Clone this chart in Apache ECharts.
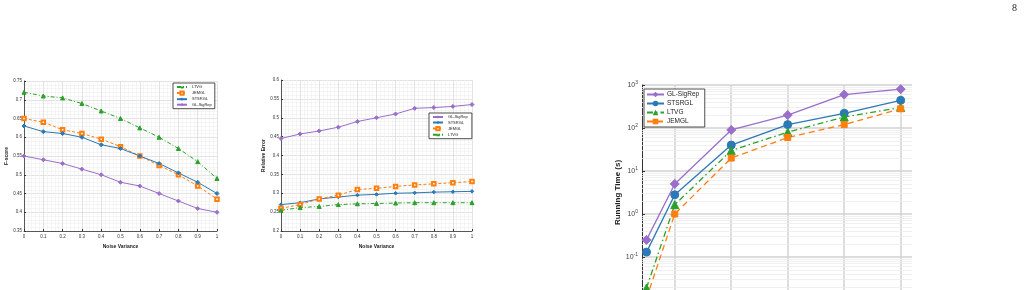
<!DOCTYPE html>
<html>
<head>
<meta charset="utf-8">
<script src="https://cdn.jsdelivr.net/npm/echarts@6/dist/echarts.min.js"></script>
<style>
html,body{margin:0;padding:0;background:#fff;}
#main{width:1027px;height:290px;}
</style>
</head>
<body>
<div id="main"></div>
<script>
// noise levels (charts 1 and 2)
var noise = [0, 0.1, 0.2, 0.3, 0.4, 0.5, 0.6, 0.7, 0.8, 0.9, 1];

// F-score
var f_LTVG   = [0.72, 0.71, 0.705, 0.69, 0.67, 0.65, 0.625, 0.60, 0.57, 0.535, 0.49];
var f_JEMGL  = [0.65, 0.64, 0.62, 0.61, 0.595, 0.575, 0.55, 0.525, 0.50, 0.47, 0.435];
var f_STSRGL = [0.63, 0.615, 0.61, 0.60, 0.58, 0.57, 0.55, 0.53, 0.505, 0.48, 0.45];
var f_GLSig  = [0.55, 0.54, 0.53, 0.515, 0.50, 0.48, 0.47, 0.45, 0.43, 0.41, 0.40];

// Relative error
var e_GLSig  = [0.445, 0.457, 0.465, 0.475, 0.49, 0.50, 0.51, 0.525, 0.527, 0.53, 0.535];
var e_STSRGL = [0.27, 0.275, 0.285, 0.29, 0.295, 0.297, 0.30, 0.301, 0.303, 0.304, 0.305];
var e_JEMGL  = [0.26, 0.27, 0.285, 0.295, 0.31, 0.313, 0.318, 0.322, 0.325, 0.328, 0.331];
var e_LTVG   = [0.255, 0.262, 0.265, 0.27, 0.272, 0.273, 0.274, 0.275, 0.275, 0.275, 0.275];

// Running time
var nodes    = [50, 100, 200, 300, 400, 500];
var t_GLSig  = [0.25, 5, 90, 200, 600, 800];
var t_STSRGL = [0.13, 2.8, 40, 120, 220, 440];
var t_LTVG   = [0.019, 1.65, 30, 80, 180, 300];
var t_JEMGL  = [0.011, 1.0, 20, 60, 120, 280];

var nodeTicks = [100, 200, 300, 400, 500];
var logMinor = [];
[0.01, 0.1, 1, 10, 100].forEach(function (d) {
    for (var k = 2; k <= 9; k++) logMinor.push(+(d * k).toPrecision(3));
});

var cPurple = '#9a6fc9', cBlue = '#2b79b6', cOrange = '#ff7f0e', cGreen = '#2ca02c';
var font = 'Liberation Sans';

function pairs(xs, ys) {
    return xs.map(function (x, i) { return [x, ys[i]]; });
}

// small panels (1 and 2)
function smallX(idx) {
    return {
        type: 'value', gridIndex: idx, min: 0, max: 1, interval: 0.1,
        name: 'Noise Variance', nameLocation: 'middle', nameGap: 8,
        nameTextStyle: {fontSize: 5, fontWeight: 'bold', fontFamily: font, color: '#222'},
        axisLine: {show: true, onZero: false, lineStyle: {color: '#333', width: 0.8}},
        axisTick: {show: true, inside: true, length: 2, lineStyle: {color: '#333'}},
        axisLabel: {fontSize: 4.5, fontFamily: font, color: '#333', margin: 3},
        splitLine: {show: true, lineStyle: {color: '#dcdcdc', width: 0.8}},
        minorTick: {show: false, splitNumber: 5},
        minorSplitLine: {show: true, lineStyle: {color: '#efefef', width: 0.6}}
    };
}
function smallY(idx, min, max, name) {
    return {
        type: 'value', gridIndex: idx, min: min, max: max, interval: 0.05,
        name: name, nameLocation: 'middle', nameGap: 13, nameRotate: 90,
        nameTextStyle: {fontSize: 5, fontWeight: 'bold', fontFamily: font, color: '#222'},
        axisLine: {show: true, onZero: false, lineStyle: {color: '#333', width: 0.8}},
        axisTick: {show: true, inside: true, length: 2, lineStyle: {color: '#333'}},
        axisLabel: {fontSize: 4.5, fontFamily: font, color: '#333', margin: 2},
        splitLine: {show: true, lineStyle: {color: '#dcdcdc', width: 0.8}},
        minorTick: {show: false, splitNumber: 5},
        minorSplitLine: {show: true, lineStyle: {color: '#efefef', width: 0.6}}
    };
}

function line(name, idx, data, color, symbol, size, type, width) {
    return {
        name: name, type: 'line', xAxisIndex: idx, yAxisIndex: idx, data: data,
        symbol: symbol, symbolSize: size, showSymbol: true,
        lineStyle: {color: color, width: width, type: type},
        itemStyle: {color: color, borderColor: color},
        animation: false, z: 3
    };
}

var smallLegend = {
    orient: 'vertical', itemWidth: 10, itemHeight: 4, itemGap: 1.5,
    padding: [2, 3], borderColor: '#222', borderWidth: 0.8, backgroundColor: '#fff',
    textStyle: {fontSize: 4, fontFamily: font, color: '#222'}
};

var myChart = echarts.init(document.getElementById('main'));
var option = {
    backgroundColor: '#fff',
    animation: false,
    graphic: [{
        type: 'text', left: 1012, top: 3,
        style: {text: '8', fontSize: 10, fontFamily: 'Liberation Serif', fill: '#222'}
    }],
    grid: [
        {left: 24, top: 81, width: 193, height: 150, outerBoundsMode: 'none'},
        {left: 281, top: 80, width: 191, height: 151, outerBoundsMode: 'none'},
        {left: 642, top: 85, width: 270, height: 215, outerBoundsMode: 'none'}
    ],
    legend: [
        Object.assign({left: 173, top: 83, data: ['LTVG', 'JEMGL', 'STSRGL', 'GL-SigRep']}, smallLegend),
        Object.assign({left: 429, top: 113, data: ['GL-SigRep ', 'STSRGL ', 'JEMGL ', 'LTVG ']}, smallLegend),
        {
            left: 644, top: 89, orient: 'vertical', itemWidth: 17, itemHeight: 7, itemGap: 2,
            padding: [2, 2], borderColor: '#222', borderWidth: 0.8, backgroundColor: '#fff',
            textStyle: {fontSize: 6.5, fontFamily: font, color: '#222', padding: [0, 0, 0, -2]},
            data: ['GL-SigRep  ', 'STSRGL  ', 'LTVG  ', 'JEMGL  ']
        }
    ],
    xAxis: [
        smallX(0),
        smallX(1),
        {
            type: 'value', gridIndex: 2, min: 42, max: 520,
            axisLine: {show: true, onZero: false, lineStyle: {color: '#333'}},
            axisTick: {show: true, inside: true, customValues: nodeTicks, length: 3},
            axisLabel: {show: true, customValues: nodeTicks, fontSize: 7, fontFamily: font, color: '#333'},
            splitLine: {show: true, lineStyle: {color: '#d2d2d2', width: 1.5}}
        }
    ],
    yAxis: [
        smallY(0, 0.35, 0.75, 'F-score'),
        smallY(1, 0.2, 0.6, 'Relative Error'),
        {
            type: 'log', gridIndex: 2, logBase: 10, min: 0.01, max: 1000,
            name: 'Running Time (s)', nameLocation: 'middle', nameGap: 20, nameRotate: 90,
            nameTextStyle: {fontSize: 8, fontWeight: 'bold', fontFamily: font, color: '#222'},
            axisLine: {show: true, onZero: false, lineStyle: {color: '#333', width: 1}},
            axisTick: {show: true, inside: true, length: 3, lineStyle: {color: '#333'}},
            axisLabel: {
                fontSize: 7, fontFamily: font, color: '#444', margin: 4,
                formatter: function (v) {
                    return '10{s|' + Math.round(Math.log10(v)) + '}';
                },
                rich: {s: {fontSize: 5, verticalAlign: 'top', padding: [0, 0, 5, 0], fontFamily: font, color: '#444'}}
            },
            splitLine: {show: true, lineStyle: {color: '#d2d2d2', width: 1.5}}
        }
    ],
    series: [
        line('LTVG', 0, pairs(noise, f_LTVG), cGreen, 'triangle', 4, [4, 2, 1, 2], 1),
        line('JEMGL', 0, pairs(noise, f_JEMGL), cOrange, 'emptyRect', 3.5, [3, 2], 1),
        line('STSRGL', 0, pairs(noise, f_STSRGL), cBlue, 'diamond', 4, 'solid', 1),
        line('GL-SigRep', 0, pairs(noise, f_GLSig), cPurple, 'diamond', 4, 'solid', 1),

        line('GL-SigRep ', 1, pairs(noise, e_GLSig), cPurple, 'diamond', 4, 'solid', 1),
        line('STSRGL ', 1, pairs(noise, e_STSRGL), cBlue, 'diamond', 3.5, 'solid', 1),
        line('JEMGL ', 1, pairs(noise, e_JEMGL), cOrange, 'emptyRect', 3.5, [3, 2], 1),
        line('LTVG ', 1, pairs(noise, e_LTVG), cGreen, 'triangle', 4, [4, 2, 1, 2], 1),

        line('GL-SigRep  ', 2, pairs(nodes, t_GLSig), cPurple, 'diamond', 9, 'solid', 1.3),
        line('STSRGL  ', 2, pairs(nodes, t_STSRGL), cBlue, 'circle', 8, 'solid', 1.3),
        line('LTVG  ', 2, pairs(nodes, t_LTVG), cGreen, 'triangle', 8, [6, 3, 1.5, 3], 1.3),
        line('JEMGL  ', 2, pairs(nodes, t_JEMGL), cOrange, 'rect', 6, [6, 4], 1.3),
        {
            type: 'line', xAxisIndex: 2, yAxisIndex: 2, data: [], silent: true,
            markLine: {
                silent: true, symbol: 'none', z: 1, animation: false,
                label: {show: false},
                lineStyle: {color: '#ececec', width: 0.8, type: 'solid'},
                data: logMinor.map(function (v) { return {yAxis: v}; })
            }
        }
    ]
};
myChart.setOption(option);
</script>
</body>
</html>
